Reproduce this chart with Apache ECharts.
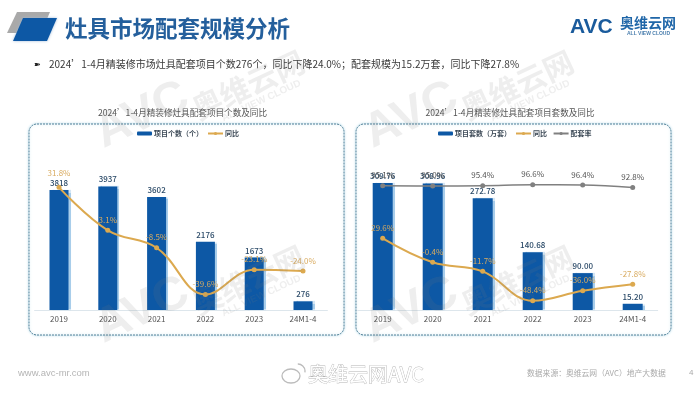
<!DOCTYPE html>
<html>
<head>
<meta charset="utf-8">
<style>
html, body { margin: 0; padding: 0; background: #fff; }
#main { width: 700px; height: 394px; }
</style>
<script src="https://cdn.jsdelivr.net/npm/echarts@6/dist/echarts.min.js"></script>
</head>
<body>
<div id="main"></div>
<script>
var years = ["2019", "2020", "2021", "2022", "2023", "24M1-4"];

// left chart
var projectCount = [3818, 3937, 3602, 2176, 1673, 276];
var projectYoy = [31.8, 3.1, -8.5, -39.6, -23.1, -24.0];

// right chart
var unitCount = [309.76, 308.96, 272.78, 140.68, 90.00, 15.20];
var unitYoy = [29.6, -0.4, -11.7, -48.4, -36.0, -27.8];
var matchRate = [95.1, 95.0, 95.4, 96.6, 96.4, 92.8];

var FONT = '"Noto Sans CJK SC", "Liberation Sans", sans-serif';
var BLUE = "#0d58a5";
var ORANGE = "#dca94f";
var GREY = "#808080";

function pct(p) {
	return p.value.toFixed(1) + "%";
}

function text(x, y, str, size, color, extra) {
	var style = { x: x, y: y, text: str, fontSize: size, fontFamily: FONT, fill: color, textVerticalAlign: "middle" };
	for (var k in extra) { style[k] = extra[k]; }
	return { type: "text", z: 5, silent: true, style: style };
}

function panel(x, y, w, h) {
	return {
		type: "rect", z: 0, silent: true,
		shape: { x: x, y: y, width: w, height: h, r: 8 },
		style: { fill: "#fff", stroke: "#4f7f96", lineWidth: 1, lineDash: [2, 1], shadowBlur: 3, shadowColor: "#b9dcea" }
	};
}

// background stamp, sits over the bars
function watermark(x, y) {
	var c = "rgba(120,120,120,0.13)";
	return {
		type: "group", x: x, y: y, rotation: 25 * Math.PI / 180, z: 50, silent: true,
		children: [
			{ type: "text", z: 50, style: { x: 0, y: 0, text: "AVC", fontSize: 48, fontWeight: "bold", fontFamily: "Liberation Sans", fill: c, textVerticalAlign: "bottom" } },
			{ type: "text", z: 50, style: { x: 98, y: -7, text: "奥维云网", fontSize: 30, fontWeight: "bold", fontFamily: FONT, fill: c, textVerticalAlign: "middle" } },
			{ type: "text", z: 50, style: { x: 120, y: 13, text: "ALL VIEW CLOUD", fontSize: 10, fontWeight: "bold", fontFamily: "Liberation Sans", fill: c, textVerticalAlign: "middle" } }
		]
	};
}

var elements = [
	// title marker
	{ type: "polygon", z: 1, silent: true, shape: { points: [[17, 12], [50, 12], [41, 33], [7, 33]] }, style: { fill: "#a9a9a9" } },
	{ type: "polygon", z: 2, silent: true, shape: { points: [[23, 18], [57, 18], [47, 41], [13, 41]] }, style: { fill: "#0d58a5", shadowBlur: 3, shadowColor: "#9fb9d6" } },
	text(65, 28, "灶具市场配套规模分析", 22.5, "#245f9c", { fontWeight: "bold" }),

	// logo
	text(570, 27, "AVC", 21, "#1a5b9c", { fontWeight: "bold", fontFamily: "Liberation Sans" }),
	text(620, 22.5, "奥维云网", 14, "#1f66a8", { fontWeight: "bold" }),
	text(627, 33.5, "ALL VIEW CLOUD", 5, "#4b7fae", { fontFamily: "Liberation Sans", fontWeight: "bold" }),

	// bullet line
	text(34, 64, "➽", 8, "#222"),
	text(49, 64, "2024’1-4月精装修市场灶具配套项目个数276个，同比下降24.0%；配套规模为15.2万套，同比下降27.8%", 10, "#3a3a3a"),

	panel(29, 124, 315, 211),
	panel(356, 124, 315, 211),
	text(182.5, 113, "2024’1-4月精装修灶具配套项目个数及同比", 8.6, "#555", { textAlign: "center" }),
	text(510, 113, "2024’1-4月精装修灶具配套项目套数及同比", 8.6, "#555", { textAlign: "center" }),

	// footer
	text(18, 373, "www.avc-mr.com", 9.5, "#b5b5b5", { fontFamily: "Liberation Sans" }),
	text(527, 373, "数据来源：奥维云网（AVC）地产大数据", 7.8, "#aaa"),
	text(689, 373, "4", 8, "#aaa", { fontFamily: "Liberation Sans" }),
	{ type: "ellipse", z: 60, silent: true, shape: { cx: 291, cy: 376, rx: 9, ry: 7 }, style: { fill: "none", stroke: "#bbb", lineWidth: 1.3 } },
	{ type: "arc", z: 60, silent: true, shape: { cx: 298, cy: 371, r: 7, startAngle: -1.6, endAngle: 0.2 }, style: { fill: "none", stroke: "#bbb", lineWidth: 1.3 } },
	{ type: "text", z: 60, silent: true, style: { x: 308, y: 374, text: "奥维云网AVC", fontSize: 20, fontFamily: FONT, fill: "#fff", stroke: "#b5b5b5", lineWidth: 0.8, textVerticalAlign: "middle" } },

	watermark(108, 158),
	watermark(377, 158),
	watermark(108, 353),
	watermark(377, 353)
];

var chart = echarts.init(document.getElementById("main"), null, { renderer: "canvas" });

function legend(left, names) {
	return {
		left: left, top: 130, padding: 0, itemHeight: 4, itemWidth: 15, itemGap: 4,
		textStyle: { fontSize: 7, fontWeight: "bold", color: "#3d4a57", fontFamily: FONT, padding: [0, 0, 0, -3] },
		data: names
	};
}

function xAxis(grid) {
	return {
		type: "category", gridIndex: grid, data: years,
		axisTick: { show: false },
		axisLine: { lineStyle: { color: "#dde6ec", width: 1 } },
		axisLabel: { fontSize: 8, color: "#555", margin: 5, fontFamily: FONT }
	};
}

function hiddenY(grid, min, max) {
	return { type: "value", gridIndex: grid, min: min, max: max, show: false, splitLine: { show: false } };
}

function barSeries(name, axis, values, barW, fmt) {
	return {
		name: name, type: "bar", xAxisIndex: axis, yAxisIndex: axis === 0 ? 0 : 2,
		data: values, barWidth: barW, z: 2,
		itemStyle: { color: BLUE, shadowColor: "#a8cdea", shadowOffsetX: 2, shadowBlur: 1 },
		label: { show: true, position: "top", distance: 3, fontSize: 8, fontWeight: 500, fontFamily: FONT, color: "#2b4a68", formatter: fmt }
	};
}

function lineSeries(name, axis, yIdx, values, color, width, labelColor) {
	return {
		name: name, type: "line", xAxisIndex: axis, yAxisIndex: yIdx,
		data: values, smooth: 0.4, z: 3,
		symbol: "circle", symbolSize: 5,
		itemStyle: { color: color },
		lineStyle: { color: color, width: width },
		label: { show: true, position: "top", distance: 4, fontSize: 8, fontFamily: FONT, color: labelColor, formatter: pct }
	};
}

var leftYoy = lineSeries("同比", 0, 1, projectYoy, ORANGE, 2, "#d9ab60");
// 31.8% sits clear of the 3818 label
leftYoy.labelLayout = function (p) {
	return p.dataIndex === 0 ? { dy: -4 } : {};
};

chart.setOption({
	animation: false,
	backgroundColor: "#fff",
	graphic: { elements: elements },
	legend: [
		legend(137, ["项目个数（个）", "同比"]),
		legend(438, ["项目套数（万套）", "同比 ", "配套率"])
	],
	grid: [
		{ left: 34.6, width: 292.8, top: 160, height: 150 },
		{ left: 357.7, width: 300, top: 160, height: 150 }
	],
	xAxis: [xAxis(0), xAxis(1)],
	yAxis: [
		hiddenY(0, 0, 4777),
		hiddenY(0, -50, 50),
		hiddenY(1, 0, 366),
		hiddenY(1, -60, 127.5),
		hiddenY(1, -82, 132)
	],
	series: [
		barSeries("项目个数（个）", 0, projectCount, 19, "{c}"),
		leftYoy,
		barSeries("项目套数（万套）", 1, unitCount, 20, function (p) { return p.value.toFixed(2); }),
		lineSeries("同比 ", 1, 3, unitYoy, ORANGE, 2, "#d9ab60"),
		lineSeries("配套率", 1, 4, matchRate, GREY, 1.5, "#555")
	]
});
</script>
</body>
</html>
